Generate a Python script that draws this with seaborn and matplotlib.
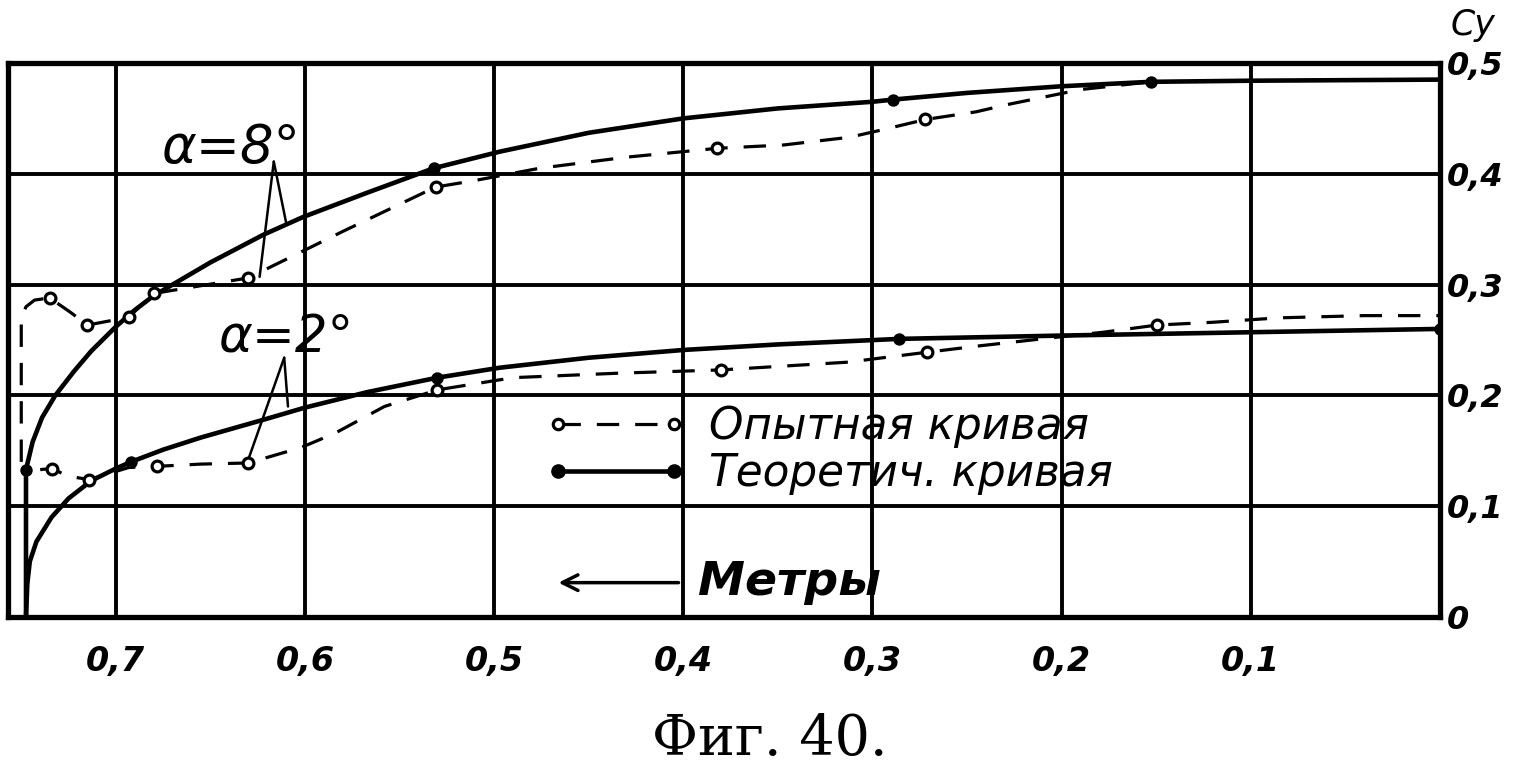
import matplotlib
matplotlib.use("Agg")
import matplotlib.pyplot as plt
from matplotlib.lines import Line2D
import seaborn as sns

# --- data (x = metres, reversed axis; y = Cy) ---

# alpha = 8 deg, theoretical curve (solid)
theo8_x = [0.7475, 0.7475, 0.744, 0.739, 0.732, 0.722, 0.713, 0.700, 0.690, 0.680, 0.667,
           0.650, 0.622, 0.601, 0.567, 0.532, 0.497, 0.450, 0.400, 0.350, 0.300, 0.289,
           0.250, 0.200, 0.153, 0.100, 0.0]
theo8_y = [0.0, 0.133, 0.158, 0.180, 0.200, 0.222, 0.240, 0.262, 0.277, 0.290, 0.303,
           0.320, 0.345, 0.361, 0.383, 0.405, 0.420, 0.437, 0.450, 0.459, 0.465, 0.467,
           0.473, 0.479, 0.483, 0.484, 0.485]
theo8_pts_x = [0.7475, 0.532, 0.289, 0.153]
theo8_pts_y = [0.133, 0.405, 0.467, 0.483]

# alpha = 8 deg, experimental curve (dashed)
exp8_x = [0.750, 0.750, 0.7475, 0.743, 0.735, 0.724, 0.715, 0.704, 0.693, 0.680, 0.655,
          0.630, 0.580, 0.531, 0.510, 0.476, 0.430, 0.382, 0.347, 0.312, 0.294, 0.272,
          0.245, 0.230, 0.190, 0.153]
exp8_y = [0.140, 0.270, 0.280, 0.286, 0.288, 0.275, 0.2635, 0.267, 0.271, 0.292, 0.299,
          0.306, 0.348, 0.388, 0.394, 0.405, 0.415, 0.423, 0.426, 0.433, 0.440, 0.449,
          0.456, 0.462, 0.476, 0.483]
exp8_pts_x = [0.735, 0.715, 0.693, 0.680, 0.630, 0.531, 0.382, 0.272]
exp8_pts_y = [0.288, 0.2635, 0.271, 0.292, 0.306, 0.388, 0.423, 0.449]

# alpha = 2 deg, theoretical curve (solid)
theo2_x = [0.7475, 0.7468, 0.7455, 0.742, 0.734, 0.725, 0.713, 0.700, 0.692, 0.675, 0.655,
           0.620, 0.600, 0.567, 0.530, 0.497, 0.450, 0.400, 0.350, 0.286, 0.200, 0.100, 0.0]
theo2_y = [0.0, 0.030, 0.050, 0.068, 0.090, 0.107, 0.123, 0.134, 0.140, 0.151, 0.162,
           0.179, 0.189, 0.203, 0.216, 0.225, 0.234, 0.241, 0.246, 0.251, 0.254, 0.257, 0.260]
theo2_pts_x = [0.692, 0.530, 0.286, 0.0]
theo2_pts_y = [0.140, 0.216, 0.251, 0.260]

# alpha = 2 deg, experimental curve (dashed)
exp2_x = [0.740, 0.734, 0.725, 0.714, 0.7026, 0.693, 0.678, 0.655, 0.630, 0.602, 0.584,
          0.558, 0.530, 0.490, 0.435, 0.380, 0.313, 0.271, 0.242, 0.200, 0.178, 0.1495,
          0.120, 0.085, 0.040, 0.0]
exp2_y = [0.133, 0.134, 0.127, 0.124, 0.130, 0.135, 0.136, 0.138, 0.139, 0.153, 0.166,
          0.190, 0.205, 0.216, 0.220, 0.223, 0.230, 0.239, 0.245, 0.253, 0.257, 0.2635,
          0.266, 0.270, 0.272, 0.272]
exp2_pts_x = [0.734, 0.714, 0.678, 0.630, 0.530, 0.380, 0.271, 0.1495]
exp2_pts_y = [0.134, 0.124, 0.136, 0.139, 0.205, 0.223, 0.239, 0.2635]

x_ticks = [0.7, 0.6, 0.5, 0.4, 0.3, 0.2, 0.1]
x_labels = ["0,7", "0,6", "0,5", "0,4", "0,3", "0,2", "0,1"]
y_ticks = [0.0, 0.1, 0.2, 0.3, 0.4, 0.5]
y_labels = ["0", "0,1", "0,2", "0,3", "0,4", "0,5"]

# annotation labels (baseline-left) and their pointer lines (apex -> two curves)
lab8_pos = (0.676, 0.410)
lab8_apex = (0.6165, 0.411)
lab8_ends = [(0.624, 0.307), (0.610, 0.356)]
lab2_pos = (0.6455, 0.239)
lab2_apex = (0.611, 0.234)
lab2_ends = [(0.630, 0.142), (0.609, 0.190)]

sns.set_theme(style="white")
plt.rcParams["font.family"] = ["DejaVu Sans"]
plt.rcParams["text.color"] = "black"
plt.rcParams["xtick.color"] = "black"
plt.rcParams["ytick.color"] = "black"

fig = plt.figure(figsize=(15.14, 7.70), dpi=100)
ax = fig.add_axes([0.0053, 0.1987, 0.9458, 0.7195])

LW_T = 3.3
LW_E = 2.3
DASH = (0, (7, 5))

def solid(x, y):
    sns.lineplot(x=x, y=y, ax=ax, sort=False, estimator=None, color="black",
                 lw=LW_T, zorder=4, solid_capstyle="round", solid_joinstyle="round")

def dashed(x, y):
    sns.lineplot(x=x, y=y, ax=ax, sort=False, estimator=None, color="black",
                 lw=LW_E, linestyle=DASH, zorder=4)

def open_pts(x, y):
    sns.scatterplot(x=x, y=y, ax=ax, s=60, facecolor="white", edgecolor="black",
                    linewidth=2.3, zorder=6)

def full_pts(x, y):
    sns.scatterplot(x=x, y=y, ax=ax, s=80, color="black", edgecolor="black",
                    linewidth=0, zorder=6)

solid(theo8_x, theo8_y)
dashed(exp8_x, exp8_y)
solid(theo2_x, theo2_y)
dashed(exp2_x, exp2_y)
open_pts(exp8_pts_x, exp8_pts_y)
open_pts(exp2_pts_x, exp2_pts_y)
full_pts(theo8_pts_x, theo8_pts_y)
full_pts(theo2_pts_x, theo2_pts_y)

# pointers from the alpha labels
for apex, ends in [(lab8_apex, lab8_ends), (lab2_apex, lab2_ends)]:
    for e in ends:
        ax.plot([apex[0], e[0]], [apex[1], e[1]], color="black", lw=1.8, zorder=5)

ax.text(lab8_pos[0], lab8_pos[1], "α=8°", fontsize=38, style="italic",
        ha="left", va="baseline", zorder=7)
ax.text(lab2_pos[0], lab2_pos[1], "α=2°", fontsize=37, style="italic",
        ha="left", va="baseline", zorder=7)

# axes, grid
ax.set_xlim(0.757, 0.0)
ax.set_ylim(0.0, 0.5)
ax.set_xticks(x_ticks)
ax.set_xticklabels(x_labels)
ax.set_yticks(y_ticks)
ax.set_yticklabels(y_labels)
ax.yaxis.tick_right()
ax.tick_params(axis="x", length=0, labelsize=24, pad=20)
ax.tick_params(axis="y", length=0, labelsize=23, pad=5)
for lab in ax.get_xticklabels() + ax.get_yticklabels():
    lab.set_fontweight("bold")
    lab.set_fontstyle("italic")
ax.grid(True, color="black", lw=2.8)
for s in ax.spines.values():
    s.set_visible(True)
    s.set_color("black")
    s.set_linewidth(3.8)

# legend drawn with proxy handles
h_exp = Line2D([], [], color="black", lw=LW_E, linestyle=DASH, marker="o", ms=7.5,
               mfc="white", mec="black", mew=2.3)
h_theo = Line2D([], [], color="black", lw=LW_T, marker="o", ms=9.5,
                mfc="black", mec="black")
ax.legend([h_exp, h_theo], ["Опытная кривая", "Теоретич. кривая"],
          loc="upper left", bbox_to_anchor=(0.375, 0.382), frameon=False,
          numpoints=2, handlelength=3.25, handletextpad=0.5, labelspacing=0.08,
          borderpad=0, borderaxespad=0,
          prop={"size": 31.5, "style": "italic"})

# metres arrow
ax.annotate("Метры", xy=(0.466, 0.031), xytext=(0.392, 0.031), fontsize=34,
            fontweight="bold", style="italic", ha="left", va="center",
            arrowprops=dict(arrowstyle="->", lw=2.5, color="black",
                            mutation_scale=28, shrinkA=12, shrinkB=0))

fig.text(0.973, 0.968, "Cy", fontsize=25, style="italic", ha="center", va="center")
fig.text(0.5086, 0.040, "Фиг. 40.", fontsize=40, family="DejaVu Serif",
         ha="center", va="center")

fig.savefig("out.png", dpi=100, facecolor="white")
